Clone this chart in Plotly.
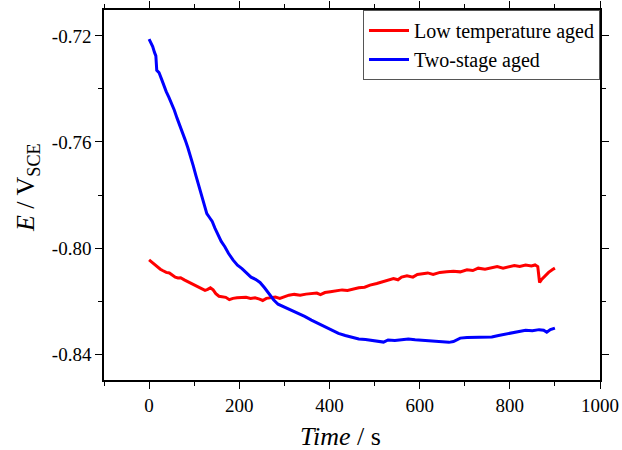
import plotly.graph_objects as go

# Two-stage aged (blue)
t_two = [0, 4, 8, 12, 15, 17, 22, 27, 32, 38, 44, 50, 56, 62, 68, 74, 80, 86, 92, 98,
         104, 110, 116, 122, 128, 134, 140, 146, 152, 160, 168, 176, 186, 196, 206, 216,
         226, 236, 246, 256, 266, 276, 286, 296, 306, 316, 330, 345, 360, 375, 390, 405,
         420, 435, 450, 465, 480, 495, 510, 520, 530, 545, 560, 575, 590, 605, 620, 635,
         650, 665, 675, 690, 705, 720, 740, 760, 775, 790, 805, 820, 835, 850, 865, 875,
         882, 890, 900]
e_two = [-0.7212, -0.7225, -0.7240, -0.7262, -0.7275, -0.7330, -0.7338, -0.7360, -0.7385,
         -0.7410, -0.7432, -0.7455, -0.7480, -0.7510, -0.7535, -0.7562, -0.7592, -0.7622,
         -0.7652, -0.7690, -0.7728, -0.7765, -0.7800, -0.7840, -0.7870, -0.7885, -0.7900,
         -0.7925, -0.7945, -0.7975, -0.7995, -0.8020, -0.8045, -0.8065, -0.8078, -0.8093,
         -0.8110, -0.8118, -0.8130, -0.8150, -0.8172, -0.8195, -0.8212, -0.8220, -0.8225,
         -0.8235, -0.8245, -0.8258, -0.8272, -0.8285, -0.8295, -0.8310, -0.8322, -0.8330,
         -0.8337, -0.8343, -0.8345, -0.8348, -0.8353, -0.8355, -0.8347, -0.8349, -0.8346,
         -0.8343, -0.8346, -0.8348, -0.8349, -0.8351, -0.8352, -0.8356, -0.8353, -0.8340,
         -0.8338, -0.8337, -0.8338, -0.8336, -0.8330, -0.8325, -0.8322, -0.8317, -0.8310,
         -0.8312, -0.8308, -0.8310, -0.8318, -0.8308, -0.8302]

# Low temperature aged (red)
t_low = [0, 5, 10, 15, 20, 25, 30, 38, 45, 52, 58, 64, 70, 78, 86, 94, 102, 110, 118, 124,
         130, 136, 142, 148, 155, 162, 170, 178, 186, 195, 205, 215, 225, 235, 245, 252,
         260, 270, 280, 290, 300, 310, 322, 335, 348, 360, 372, 380, 390, 402, 415, 428,
         440, 452, 465, 478, 490, 505, 518, 530, 542, 552, 560, 572, 585, 595, 608, 618,
         630, 645, 660, 675, 690, 705, 718, 730, 745, 760, 772, 785, 798, 810, 822, 835,
         848, 856, 862, 866, 870, 878, 886, 894, 900]
e_low = [-0.8045, -0.8052, -0.8060, -0.8068, -0.8075, -0.8080, -0.8085, -0.8092, -0.8094,
         -0.8103, -0.8110, -0.8113, -0.8112, -0.8120, -0.8127, -0.8133, -0.8142, -0.8150,
         -0.8156, -0.8160, -0.8156, -0.8150, -0.8158, -0.8172, -0.8182, -0.8184, -0.8186,
         -0.8195, -0.8190, -0.8188, -0.8188, -0.8186, -0.8190, -0.8188, -0.8193, -0.8198,
         -0.8190, -0.8188, -0.8185, -0.8190, -0.8184, -0.8178, -0.8175, -0.8178, -0.8174,
         -0.8172, -0.8170, -0.8176, -0.8168, -0.8165, -0.8162, -0.8158, -0.8160, -0.8155,
         -0.8150, -0.8148, -0.8140, -0.8134, -0.8128, -0.8122, -0.8115, -0.8120, -0.8110,
         -0.8105, -0.8110, -0.8100, -0.8096, -0.8094, -0.8100, -0.8092, -0.8090, -0.8088,
         -0.8090, -0.8082, -0.8085, -0.8076, -0.8080, -0.8074, -0.8070, -0.8076, -0.8072,
         -0.8066, -0.8070, -0.8064, -0.8068, -0.8064, -0.8070, -0.8130, -0.8120, -0.8105,
         -0.8092, -0.8082, -0.8076]

x_ticks = [0, 200, 400, 600, 800, 1000]
y_ticks = [-0.84, -0.80, -0.76, -0.72]
y_tick_labels = ["-0.84", "-0.80", "-0.76", "-0.72"]

FONT = "Liberation Serif"

fig = go.Figure()
fig.add_trace(go.Scatter(x=t_low, y=e_low, mode="lines", name="Low temperature aged",
                         line=dict(color="#ff0000", width=3)))
fig.add_trace(go.Scatter(x=t_two, y=e_two, mode="lines", name="Two-stage aged",
                         line=dict(color="#0000ff", width=3)))

axis_common = dict(showline=True, linecolor="black", linewidth=1.5, mirror="allticks",
                   ticks="outside", ticklen=7, tickwidth=1.2, tickcolor="black",
                   showgrid=False, zeroline=False, automargin=False,
                   tickfont=dict(family=FONT, size=19, color="black"))

fig.update_xaxes(range=[-100, 1000], tickvals=x_ticks,
                 minor=dict(dtick=100, tick0=0, ticks="outside", ticklen=4, tickcolor="black"),
                 **axis_common)
fig.update_yaxes(range=[-0.8498, -0.7102], tickvals=y_ticks, ticktext=y_tick_labels,
                 minor=dict(dtick=0.02, tick0=-0.84, ticks="outside", ticklen=4, tickcolor="black"),
                 **axis_common)

fig.update_layout(
    width=622, height=450,
    margin=dict(l=104, r=22, t=10, b=70, autoexpand=False),
    plot_bgcolor="white", paper_bgcolor="white",
    font=dict(family=FONT, color="black"),
    showlegend=True,
    legend=dict(x=1, y=1, xanchor="right", yanchor="top",
                bordercolor="#555555", borderwidth=1, bgcolor="white",
                font=dict(family=FONT, size=20, color="black"),
                tracegroupgap=0, itemwidth=40),
    annotations=[
        dict(text="<i>Time</i> / s", x=0.476, y=-0.154, xref="paper", yref="paper",
             xanchor="center", yanchor="middle", showarrow=False,
             font=dict(family=FONT, size=26, color="black")),
        dict(text="<i>E</i> / V<sub>SCE</sub>", x=-0.155, y=0.519, xref="paper", yref="paper",
             xanchor="center", yanchor="middle", showarrow=False, textangle=-90,
             font=dict(family=FONT, size=26, color="black")),
    ],
)

fig.write_html("out.html", config={"displayModeBar": False},
               post_script="document.body.style.margin='0';document.body.style.padding='0';")
